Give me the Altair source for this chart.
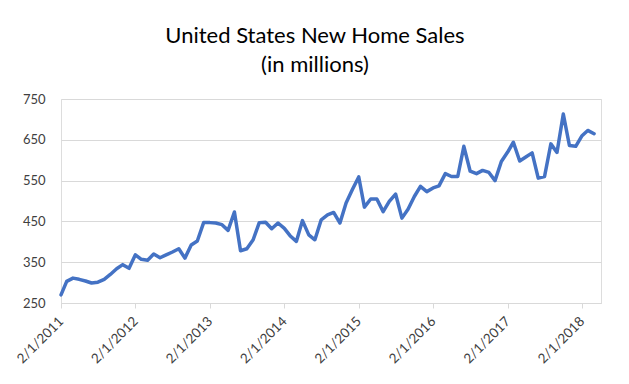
import altair as alt
import pandas as pd

# Monthly new home sales (thousands, SAAR), Feb 2011 .. Apr 2018
sales = [
    270, 303, 311, 308, 304, 299, 301, 308, 320, 334, 344, 335,
    368, 357, 355, 370, 361, 368, 375, 383, 360, 392, 402, 447,
    447, 446, 442, 428, 473, 378, 383, 405, 447, 448, 432, 446,
    433, 415, 401, 452, 417, 405, 454, 466, 472, 446, 495, 528,
    559, 485, 505, 505, 474, 499, 517, 458, 480, 511, 536, 523,
    532, 537, 567, 560, 560, 634, 573, 567, 575, 570, 550, 597,
    620, 644, 598, 608, 618, 556, 560, 640, 619, 713, 636, 634,
    660, 673, 665,
]
months = pd.date_range("2011-02-01", periods=len(sales), freq="MS").strftime("%Y-%m-%dT00:00:00").tolist()
tick_years = [2011, 2012, 2013, 2014, 2015, 2016, 2017, 2018]
y_ticks = [250, 350, 450, 550, 650, 750]
title_lines = ["United States New Home Sales", "(in millions)"]

df = pd.DataFrame({"month": months, "sales": sales})

FONT = "Lato"
LABEL_COLOR = "#404040"
GRID = "#d9d9d9"

chart = alt.Chart(df).mark_line(
    color="#4472C4", strokeWidth=3.5, strokeJoin="round", strokeCap="round"
).encode(
    x=alt.X(
        "month:T",
        title=None,
        scale=alt.Scale(domain=[alt.DateTime(year=2011, month=2, date=1),
                                alt.DateTime(year=2018, month=5, date=5)]),
        axis=alt.Axis(
            values=[alt.DateTime(year=y, month=2, date=1) for y in tick_years],
            format="%-m/%-d/%Y",
            labelAngle=-45, labelAlign="right", labelBaseline="middle",
            labelPadding=11, labelFontSize=13.5, labelFont=FONT, labelColor=LABEL_COLOR,
            grid=False, domainColor=GRID, tickColor=GRID, tickSize=5,
            labelOverlap=False,
        ),
    ),
    y=alt.Y(
        "sales:Q",
        title=None,
        scale=alt.Scale(domain=[250, 750], nice=False, zero=False),
        axis=alt.Axis(
            values=y_ticks, domain=False, ticks=False, grid=True, gridColor=GRID,
            labelPadding=16, labelFontSize=13, labelFont=FONT, labelColor=LABEL_COLOR,
        ),
    ),
).properties(
    width=540,
    height=204,
    title=alt.TitleParams(
        text=title_lines, font=FONT, fontSize=22, fontWeight="normal", color="#000000",
        anchor="middle", frame="group", dx=-16, offset=16, lineHeight=29,
    ),
    autosize=alt.AutoSizeParams(type="none"),
    padding={"left": 53, "top": 91, "right": 12, "bottom": 70},
).configure_view(stroke=None).configure(background="white")

chart.save("out.html", embed_options={"renderer": "svg", "actions": False})
